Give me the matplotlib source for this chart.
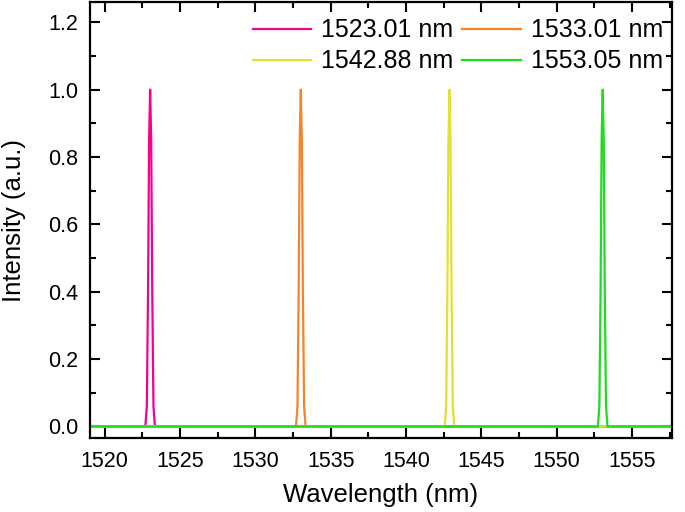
import numpy as np
import matplotlib
matplotlib.use("Agg")
import matplotlib.pyplot as plt
from matplotlib.ticker import MultipleLocator

plt.rcParams['font.family'] = ['Liberation Sans', 'DejaVu Sans']

# peak centres (nm) and legend labels
centers = [1523.01, 1533.01, 1542.88, 1553.05]
labels = ["1523.01 nm", "1533.01 nm", "1542.88 nm", "1553.05 nm"]
colors = ["#F7008C", "#F5832B", "#E4DF35", "#1EDC1E"]

# peak profile (offset from centre in nm, normalised intensity)
offsets = [-0.32, -0.22, -0.14, -0.07, 0.0, 0.07, 0.14, 0.22, 0.32]
profile = [0.0, 0.06, 0.40, 0.85, 1.0, 0.85, 0.40, 0.06, 0.0]

x_start, x_end = 1519.0, 1558.0

fig, ax = plt.subplots(figsize=(6.85, 5.12), dpi=100)
fig.subplots_adjust(left=0.131, right=0.981, top=0.996, bottom=0.144)

handles = []
for c, lab, col in zip(centers, labels, colors):
    xs = [x_start] + [c + o for o in offsets] + [x_end]
    ys = [0.0] + profile + [0.0]
    h, = ax.plot(xs, ys, color=col, lw=1.6, label=lab)
    handles.append(h)

ax.set_xlim(x_start, x_end - 0.35)
ax.set_ylim(-0.035, 1.26)
ax.xaxis.set_major_locator(MultipleLocator(5))
ax.xaxis.set_minor_locator(MultipleLocator(2.5))
ax.yaxis.set_major_locator(MultipleLocator(0.2))
ax.yaxis.set_minor_locator(MultipleLocator(0.1))
ax.tick_params(which='both', direction='in', top=True, right=True,
               width=1.5, labelsize=15.5)
ax.tick_params(axis='x', pad=9)
ax.tick_params(axis='y', pad=8)
ax.tick_params(which='major', length=7)
ax.tick_params(which='minor', length=4)
for s in ax.spines.values():
    s.set_linewidth(1.6)

ax.set_xlabel("Wavelength (nm)", fontsize=18.5, labelpad=8)
ax.set_ylabel("Intensity (a.u.)", fontsize=18.5, labelpad=16)

order = [0, 2, 1, 3]
ax.legend([handles[i] for i in order], [labels[i] for i in order], ncol=2,
          frameon=False, fontsize=18, loc='upper right',
          handlelength=2.35, columnspacing=0.35, handletextpad=0.4,
          labelspacing=0.28, borderpad=0.3, borderaxespad=0.35,
          bbox_to_anchor=(1.013, 1.0))

fig.savefig("out.png", dpi=100)
